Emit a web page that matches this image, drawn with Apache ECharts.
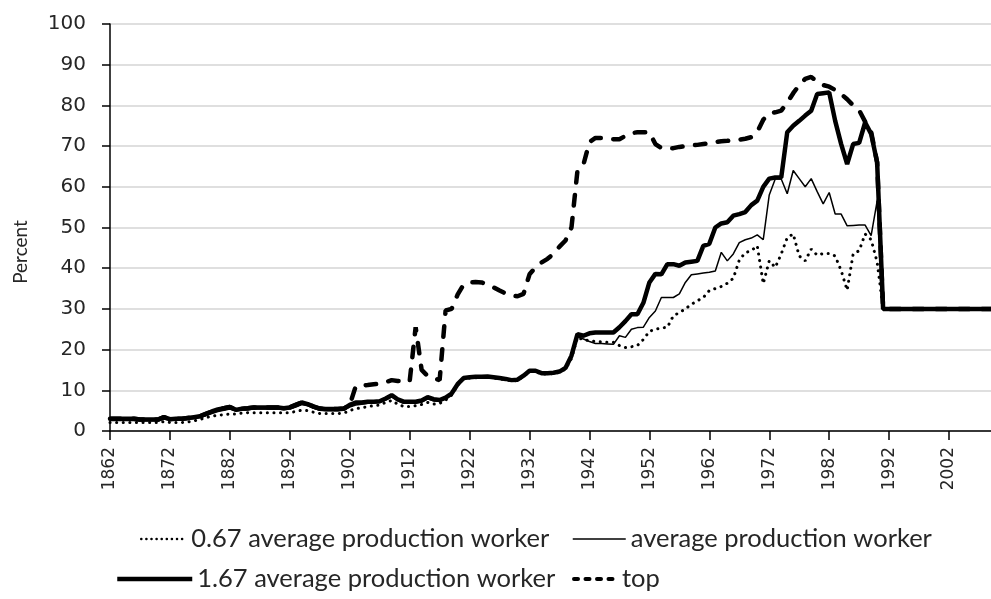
<!DOCTYPE html>
<html>
<head>
<meta charset="utf-8">
<title>Percent</title>
<script src="https://cdn.jsdelivr.net/npm/echarts@6/dist/echarts.min.js"></script>
<style>
    html, body { margin: 0; padding: 0; background: #fff; }
    #main { width: 991px; height: 599px; }
</style>
</head>
<body>
<div id="main"></div>
<script>
// 年份 1862-2009
var years = [];
for (var y = 1862; y <= 2009; y++) {
    years.push(String(y));
}

var seriesNames = ['0.67 average production worker', 'average production worker', '1.67 average production worker', 'top'];

// 0.67 average production worker
var worker067 = [
    2.1, 2.1, 2.1, 2.1, 2.1, 2.1, 2.1, 2.1, 2.1, 2.3,
    2.1, 2.1, 2.1, 2.2, 2.5, 2.8, 3.3, 3.6, 3.9, 4.0,
    4.2, 4.2, 4.4, 4.5, 4.5, 4.5, 4.5, 4.5, 4.5, 4.5,
    4.5, 4.8, 5.1, 5.0, 4.6, 4.3, 4.3, 4.3, 4.3, 4.4,
    5.0, 5.5, 5.7, 6.0, 6.2, 6.4, 7.0, 7.5, 6.6, 6.0,
    6.0, 6.2, 6.5, 7.0, 6.6, 6.8, 7.6, 8.8, 11.2, 12.8,
    13.0, 13.1, 13.1, 13.2, 13.0, 12.8, 12.6, 12.3, 12.4, 13.4,
    14.6, 14.6, 14.0, 14.0, 14.1, 14.4, 15.2, 17.8, 23.0, 22.4,
    22.2, 22.0, 21.9, 21.8, 21.8, 21.0, 20.5, 20.7, 21.0, 22.5,
    24.5, 25.0, 25.3, 25.5, 28.3, 29.1, 30.0, 31.1, 32.0, 32.8,
    34.5, 35.0, 35.5, 36.3, 37.5, 42.0, 43.8, 44.3, 45.5, 36.2,
    41.8, 40.2, 43.5, 47.5, 48.4, 43.0, 41.8, 44.7, 43.2, 43.6,
    43.6, 43.0, 39.4, 34.6, 43.5, 44.3, 48.4, 47.0, 41.5, 30,
    30, 30, 30, 30, 30, 30, 30, 30, 30, 30,
    30, 30, 30, 30, 30, 30, 30, 30
];

// average production worker
var workerAvg = [
    2.6, 2.6, 2.6, 2.6, 2.6, 2.5, 2.5, 2.5, 2.5, 3.0,
    2.6, 2.7, 2.7, 2.9, 3.1, 3.3, 3.8, 4.3, 4.8, 5.1,
    5.4, 4.9, 5.1, 5.2, 5.4, 5.4, 5.4, 5.4, 5.4, 5.2,
    5.4, 5.9, 6.5, 6.2, 5.6, 5.1, 5.0, 5.0, 5.0, 5.1,
    5.9, 6.4, 6.6, 6.8, 6.9, 7.0, 7.6, 8.4, 7.4, 6.8,
    6.8, 6.9, 7.1, 7.9, 7.4, 7.3, 7.9, 9.0, 11.3, 12.9,
    13.1, 13.2, 13.2, 13.3, 13.1, 12.9, 12.7, 12.4, 12.5, 13.5,
    14.7, 14.7, 14.1, 14.1, 14.2, 14.5, 15.3, 18.0, 23.2, 22.6,
    22.0, 21.5, 21.5, 21.4, 21.3, 23.4, 23.0, 25.0, 25.4, 25.5,
    27.9, 29.5, 32.8, 32.8, 32.8, 33.7, 36.5, 38.4, 38.6, 38.8,
    39.0, 39.3, 43.9, 41.8, 43.5, 46.3, 47.0, 47.4, 48.2, 47.0,
    58.0, 61.9, 61.9, 58.3, 64.0, 62.0, 60.0, 62.0, 58.8, 55.8,
    58.6, 53.3, 53.3, 50.4, 50.5, 50.6, 50.6, 48.0, 56.5, 30,
    30, 30, 30, 30, 30, 30, 30, 30, 30, 30,
    30, 30, 30, 30, 30, 30, 30, 30
];

// 1.67 average production worker
var worker167 = [
    3.0, 3.0, 3.0, 3.0, 3.0, 2.8, 2.8, 2.8, 2.8, 3.4,
    2.9, 3.0, 3.0, 3.2, 3.4, 3.6, 4.2, 4.8, 5.3, 5.6,
    5.9, 5.2, 5.5, 5.6, 5.8, 5.8, 5.8, 5.8, 5.8, 5.6,
    5.8, 6.4, 7.0, 6.6, 6.0, 5.5, 5.4, 5.4, 5.4, 5.5,
    6.4, 7.0, 7.0, 7.2, 7.2, 7.3, 8.0, 8.8, 7.8, 7.2,
    7.2, 7.2, 7.5, 8.3, 7.8, 7.6, 8.2, 9.2, 11.5, 13.0,
    13.2, 13.3, 13.3, 13.4, 13.2, 13.0, 12.8, 12.5, 12.6, 13.6,
    14.8, 14.8, 14.2, 14.2, 14.3, 14.6, 15.5, 18.5, 23.8, 23.4,
    24.0, 24.2, 24.2, 24.2, 24.2, 25.5, 27.0, 28.7, 28.7, 31.5,
    36.5, 38.6, 38.5, 41.0, 41.0, 40.6, 41.4, 41.6, 41.8, 45.5,
    46.0, 50.0, 51.0, 51.3, 52.9, 53.3, 53.8, 55.5, 56.6, 60.0,
    62.0, 62.3, 62.3, 73.4, 75.0, 76.2, 77.5, 78.7, 82.8, 83.0,
    83.2, 76.2, 70.5, 65.6, 70.5, 70.8, 75.8, 73.0, 66.0, 30,
    30, 30, 30, 30, 30, 30, 30, 30, 30, 30,
    30, 30, 30, 30, 30, 30, 30, 30
];

// top
var topRate = [
    3.0, 3.0, 3.0, 3.0, 3.0, 2.8, 2.8, 2.8, 2.8, 3.4,
    2.9, 3.0, 3.0, 3.2, 3.4, 3.6, 4.2, 4.8, 5.3, 5.6,
    5.9, 5.2, 5.5, 5.6, 5.8, 5.8, 5.8, 5.8, 5.8, 5.6,
    5.8, 6.4, 7.0, 6.6, 6.0, 5.5, 5.4, 5.4, 5.4, 5.5,
    6.4, 11.0, 11.2, 11.3, 11.5, 11.6, 12.0, 12.5, 12.3, 12.2,
    12.2, 25.5, 15.0, 13.5, 13.0, 12.5, 29.6, 30.0, 33.5, 36.0,
    36.5, 36.6, 36.5, 36.0, 35.3, 34.5, 33.8, 33.3, 33.1, 33.7,
    38.5, 40.2, 41.4, 42.3, 43.5, 45.3, 46.8, 50.0, 64.0, 65.5,
    71.0, 72.0, 72.0, 71.8, 71.7, 71.7, 72.5, 73.2, 73.4, 73.4,
    73.4, 70.5, 69.5, 69.5, 69.5, 69.8, 70.0, 70.2, 70.3, 70.5,
    70.7, 71.0, 71.2, 71.3, 71.5, 71.6, 71.8, 72.2, 73.5, 76.5,
    78.0, 78.3, 78.7, 80.7, 83.0, 85.0, 86.5, 87.0, 85.8, 85.0,
    84.6, 83.8, 82.8, 81.5, 80.0, 78.8, 76.0, 73.5, 66.0, 30,
    30, 30, 30, 30, 30, 30, 30, 30, 30, 30,
    30, 30, 30, 30, 30, 30, 30, 30
];

var yTicks = { min: 0, max: 100, step: 10 };

var legendFont = {
    fontFamily: 'Lato',
    fontSize: 25.5,
    color: '#262626'
};

// 单个图例，只画线不画圆点
function makeLegend(name, left, top, width, lineStyle) {
    return {
        data: [name],
        left: left,
        top: top,
        padding: 0,
        itemWidth: width,
        itemHeight: 14,
        selectedMode: false,
        textStyle: legendFont,
        itemStyle: { opacity: 0 },
        lineStyle: lineStyle
    };
}

var chart = echarts.init(document.getElementById('main'));

var option = {
    animation: false,
    backgroundColor: '#fff',
    grid: {
        left: 110,
        right: 0,
        top: 24,
        bottom: 168
    },
    legend: [
        makeLegend(seriesNames[0], 140, 526, 45, { type: [0.1, 5], width: 2.5, cap: 'round', color: '#000' }),
        makeLegend(seriesNames[1], 572, 526, 53, { type: 'solid', width: 1.5, color: '#000' }),
        makeLegend(seriesNames[2], 115, 566, 75, { type: 'solid', width: 4.5, color: '#000' }),
        makeLegend(seriesNames[3], 572, 566, 43, { type: [4, 7.5], width: 4, cap: 'round', color: '#000' })
    ],
    graphic: [{
        type: 'text',
        x: 21,
        y: 252,
        rotation: Math.PI / 2,
        style: {
            text: 'Percent',
            fontFamily: 'Lato',
            fontSize: 19,
            fill: '#262626',
            align: 'center',
            verticalAlign: 'middle'
        }
    }],
    xAxis: {
        type: 'category',
        data: years,
        boundaryGap: false,
        axisLine: { lineStyle: { color: '#000', width: 1.5 } },
        axisTick: {
            interval: 9,
            length: 9,
            lineStyle: { color: '#000', width: 1.5 }
        },
        axisLabel: {
            interval: 9,
            rotate: 90,
            margin: 16,
            fontFamily: 'DejaVu Sans',
            fontSize: 17,
            color: '#262626'
        },
        splitLine: { show: false }
    },
    yAxis: {
        type: 'value',
        min: yTicks.min,
        max: yTicks.max,
        interval: yTicks.step,
        axisLine: { show: true, lineStyle: { color: '#000', width: 1.5 } },
        axisTick: { show: true, length: 8, lineStyle: { color: '#000', width: 1.5 } },
        axisLabel: {
            margin: 24,
            fontFamily: 'DejaVu Sans',
            fontSize: 20,
            color: '#262626'
        },
        splitLine: { lineStyle: { color: '#d4d4d4', width: 1.5 } }
    },
    series: [
        {
            name: seriesNames[0],
            type: 'line',
            data: worker067,
            symbol: 'none',
            lineStyle: { color: '#000', width: 3, type: [0.1, 6.5], cap: 'round' },
            itemStyle: { color: '#000' }
        },
        {
            name: seriesNames[1],
            type: 'line',
            data: workerAvg,
            symbol: 'none',
            lineStyle: { color: '#000', width: 1.5 },
            itemStyle: { color: '#000' }
        },
        {
            name: seriesNames[2],
            type: 'line',
            data: worker167,
            symbol: 'none',
            lineStyle: { color: '#000', width: 4.5 },
            itemStyle: { color: '#000' }
        },
        {
            name: seriesNames[3],
            type: 'line',
            data: topRate,
            symbol: 'none',
            lineStyle: { color: '#000', width: 4.5, type: [10.5, 12.5], cap: 'round' },
            itemStyle: { color: '#000' }
        }
    ]
};

chart.setOption(option);
</script>
</body>
</html>
